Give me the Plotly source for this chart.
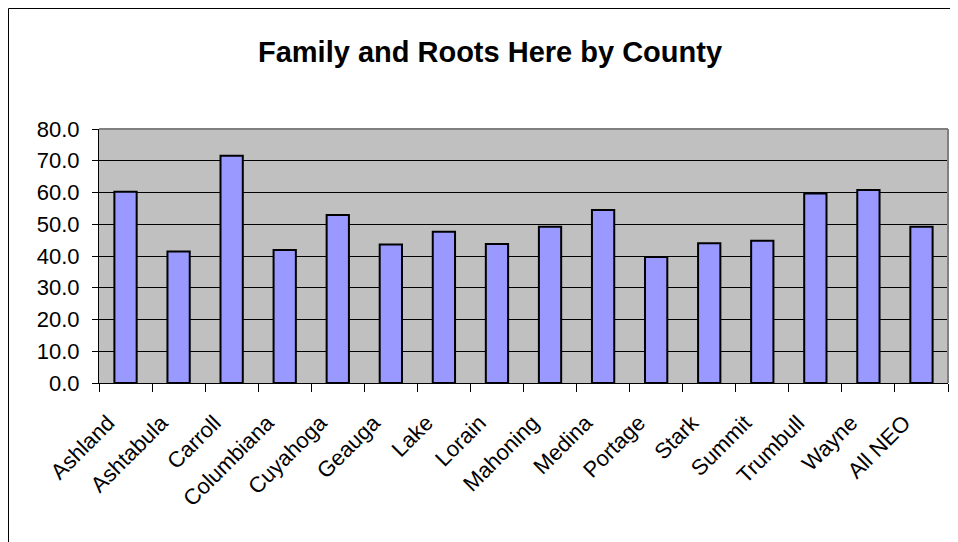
import plotly.graph_objects as go

counties = ["Ashland", "Ashtabula", "Carroll", "Columbiana", "Cuyahoga", "Geauga",
            "Lake", "Lorain", "Mahoning", "Medina", "Portage", "Stark", "Summit",
            "Trumbull", "Wayne", "All NEO"]
values = [60.2, 41.4, 71.6, 41.9, 52.9, 43.6, 47.6, 43.8, 49.2, 54.5, 39.7, 44.0,
          44.8, 59.7, 60.8, 49.2]
y_ticks = [0, 10, 20, 30, 40, 50, 60, 70, 80]
title_text = "Family and Roots Here by County"

# page body has an 8px margin, so figure coords = screen coords - 8
W, H = 958, 542
L, R, T, B = 91, 18, 121, 167
pw, ph = W - L - R, H - T - B

def px_x(p):
    return (p - L) / pw

def px_y(p):
    return (H - B - p) / ph

# trailing no-break spaces shift rotated labels down-left like the original
pad = "\u00a0" * 4
tick_text = [c + pad for c in counties]

fig = go.Figure(go.Bar(
    x=counties, y=values,
    marker=dict(color="#9999FF", line=dict(color="#000000", width=2)),
    width=0.42,
))

fig.update_layout(
    width=W, height=H,
    margin=dict(l=L, r=R, t=T, b=B),
    paper_bgcolor="#FFFFFF",
    plot_bgcolor="#C0C0C0",
    font=dict(family="Liberation Sans, Arial, sans-serif", color="#000000"),
    title=dict(text=title_text, x=482 / W, xanchor="center",
               y=1 - 44 / H, yanchor="middle",
               font=dict(size=29, weight="bold", color="#000000")),
    showlegend=False,
    xaxis=dict(
        type="category", tickangle=-45, tickson="boundaries",
        tickvals=counties, ticktext=tick_text,
        ticks="outside", ticklen=8, tickcolor="#000000", tickwidth=1,
        showline=True, linecolor="#000000", linewidth=1,
        showgrid=False, tickfont=dict(size=22), ticklabelstandoff=0,
    ),
    yaxis=dict(
        range=[0, 80], tickvals=y_ticks, tickformat=".1f",
        ticks="outside", ticklen=6, tickcolor="#000000", tickwidth=1,
        showline=True, linecolor="#000000", linewidth=1,
        showgrid=True, gridcolor="#000000", gridwidth=1,
        zeroline=False, tickfont=dict(size=22), ticklabelstandoff=8,
    ),
    shapes=[
        dict(type="line", xref="paper", yref="paper", x0=0, x1=1, y0=1, y1=1,
             line=dict(color="#808080", width=2)),
        dict(type="line", xref="paper", yref="paper", x0=1, x1=1, y0=0, y1=1,
             line=dict(color="#808080", width=2)),
        dict(type="line", xref="paper", yref="paper", x0=px_x(0.5), x1=px_x(W + 5),
             y0=px_y(0.5), y1=px_y(0.5), line=dict(color="#000000", width=1)),
        dict(type="line", xref="paper", yref="paper", x0=px_x(0.5), x1=px_x(0.5),
             y0=px_y(0.5), y1=px_y(H + 5), line=dict(color="#000000", width=1)),
    ],
)

fig.write_html("out.html")
